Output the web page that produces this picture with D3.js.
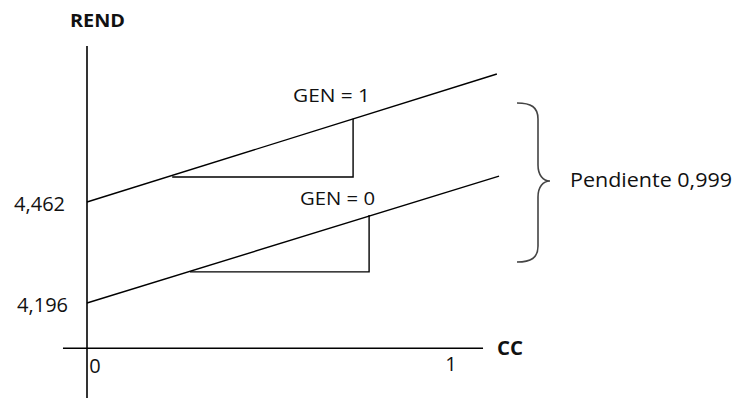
<!DOCTYPE html>
<html><head><meta charset="utf-8">
<script src="https://cdn.jsdelivr.net/npm/d3@7"></script>
<style>body{margin:0;background:#fff}svg{display:block}text{font-family:"Open Sans",Lato,sans-serif;fill:#111}</style>
</head><body><svg id="c" width="735" height="398"></svg>
<script>
// Schematic regression: REND = b0 + 0.266*GEN + 0.999*CC
const xTicks = [0, 1];
const yTicks = [4.196, 4.462];
const yTickLabels = ["4,196", "4,462"];
const seriesNames = ["GEN = 0", "GEN = 1"];
const intercepts = [4.196, 4.462];
const lineEndX = [1.132, 1.126];
const lineEndY = [4.530, 4.799];
const triStartX = [0.283, 0.234];
const triEndX = [0.775, 0.731];
const triBaseY = [4.278, 4.528];
const triTopY = [4.428, 4.681];
const xAxisExtent = [-0.066, 1.088];
const yAxisExtent = [3.946, 4.873];
const xAxisAt = 4.077;
const slopeLabel = "Pendiente 0,999";

const svg = d3.select("#c");
const x = d3.scaleLinear().domain([0, 1]).range([87, 451]);
const y = d3.scaleLinear().domain([4.196, 4.462]).range([303, 202]);

// axes
svg.append("line").attr("x1", x(0)).attr("x2", x(0))
  .attr("y1", y(yAxisExtent[1])).attr("y2", y(yAxisExtent[0]))
  .attr("stroke", "#000").attr("stroke-width", 1.6);
svg.append("line").attr("x1", x(xAxisExtent[0])).attr("x2", x(xAxisExtent[1]))
  .attr("y1", y(xAxisAt)).attr("y2", y(xAxisAt))
  .attr("stroke", "#000").attr("stroke-width", 1.6);

svg.append("text").attr("x", 70).attr("y", 27).attr("font-size", 18).attr("font-weight", "bold")
  .attr("textLength", 55).attr("lengthAdjust", "spacingAndGlyphs").text("REND");
svg.append("text").attr("x", 497).attr("y", 355).attr("font-size", 20).attr("font-weight", "bold")
  .attr("textLength", 26).attr("lengthAdjust", "spacingAndGlyphs").text("CC");

svg.selectAll(".xt").data(xTicks).enter().append("text")
  .attr("x", d => x(d) + (d === 0 ? 8 : 0)).attr("y", (d, i) => i === 0 ? 373 : 371)
  .attr("text-anchor", "middle").attr("font-size", 20).text(d => d);

svg.selectAll(".yt").data(yTicks).enter().append("text")
  .attr("x", (d, i) => i === 0 ? 68 : 65).attr("y", d => y(d) + 9)
  .attr("text-anchor", "end").attr("font-size", 20).text((d, i) => yTickLabels[i]);

// lines
intercepts.forEach((b, i) => {
  svg.append("line").attr("x1", x(0)).attr("y1", y(b))
    .attr("x2", x(lineEndX[i])).attr("y2", y(lineEndY[i]))
    .attr("stroke", "#000").attr("stroke-width", 1.4);
  svg.append("path")
    .attr("d", d3.line()([[x(triStartX[i]), y(triBaseY[i])], [x(triEndX[i]), y(triBaseY[i])], [x(triEndX[i]), y(triTopY[i])]]))
    .attr("fill", "none").attr("stroke", "#000").attr("stroke-width", 1.4);
});

// series labels
svg.append("text").attr("x", 293).attr("y", 102).attr("font-size", 19)
  .attr("textLength", 77).attr("lengthAdjust", "spacingAndGlyphs").text(seriesNames[1]);
svg.append("text").attr("x", 300).attr("y", 205).attr("font-size", 19)
  .attr("textLength", 75).attr("lengthAdjust", "spacingAndGlyphs").text(seriesNames[0]);

// brace
const bx = 517, bTop = 103, bBot = 262, bMid = 181;
const brace = `M${bx},${bTop} C${bx+14},${bTop} ${bx+21},${bTop+4} ${bx+21},${bTop+16} L${bx+21},${bMid-16} C${bx+21},${bMid-6} ${bx+26},${bMid} ${bx+33},${bMid} C${bx+26},${bMid} ${bx+21},${bMid+6} ${bx+21},${bMid+16} L${bx+21},${bBot-16} C${bx+21},${bBot-4} ${bx+14},${bBot} ${bx},${bBot}`;
svg.append("path").attr("d", brace).attr("fill", "none").attr("stroke", "#444").attr("stroke-width", 1.6);

svg.append("text").attr("x", 570).attr("y", 187).attr("font-size", 20)
  .attr("textLength", 162).attr("lengthAdjust", "spacingAndGlyphs").text(slopeLabel);
</script></body></html>
